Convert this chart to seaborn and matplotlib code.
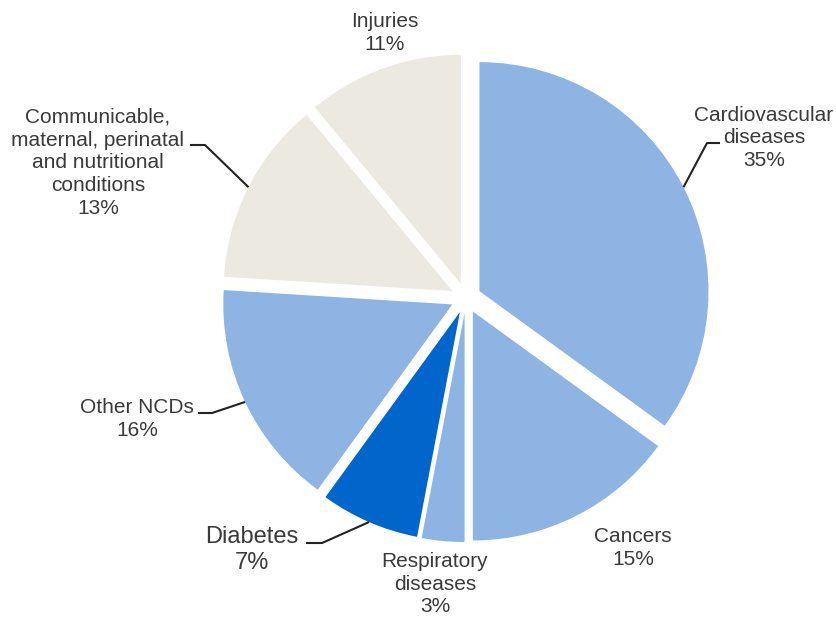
import numpy as np
import matplotlib
matplotlib.use("Agg")
import matplotlib.pyplot as plt
import seaborn as sns

sns.set_theme(style="white")
plt.rcParams['font.family'] = ['Liberation Sans', 'DejaVu Sans']

# ---- data ----
categories = ["Cardiovascular\ndiseases", "Cancers", "Respiratory\ndiseases", "Diabetes",
              "Other NCDs", "Communicable,\nmaternal, perinatal\nand nutritional\nconditions", "Injuries"]
shares = [35, 15, 3, 7, 16, 13, 11]
pct_labels = ["35%", "15%", "3%", "7%", "16%", "13%", "11%"]

# ---- styles ----
LIGHT = "#8EB4E3"
DARK = "#0066CC"
BEIGE = "#ECEAE0"
colors = [LIGHT, LIGHT, LIGHT, DARK, LIGHT, BEIGE, BEIGE]
TXT = "#3a3a3a"

W, H = 837, 617
fig = plt.figure(figsize=(W / 100, H / 100), dpi=100)
ax = fig.add_axes([0, 0, 1, 1])

center = (466, H - 298)
radius = 229
explode_frac = 0.066  # fraction of radius (matplotlib explode is in data units)
wedges, _ = ax.pie(shares, colors=colors, startangle=90, counterclock=False,
                   explode=[explode_frac * radius] * len(shares), center=center, radius=radius,
                   wedgeprops=dict(linewidth=0), frame=False)
ax.set_xlim(0, W)
ax.set_ylim(0, H)
ax.set_aspect("equal")
ax.axis("off")

# label layout (screen pixel coords, y measured from top)
layout = {
    0: dict(text=(764, 138), elbow=[(707, 143), (720, 143)], size=15),
    1: dict(text=(633, 548), elbow=None, size=15),
    2: dict(text=(435, 584), elbow=None, size=15),
    3: dict(text=(252, 550), elbow=[(322, 543), (306, 543)], size=17),
    4: dict(text=(137, 419), elbow=[(212, 413), (198, 413)], size=15),
    5: dict(text=(98, 163), elbow=[(205, 145), (190, 145)], size=15),
    6: dict(text=(385, 33), elbow=None, size=15),
}

for i, w in enumerate(wedges):
    lay = layout[i]
    label = categories[i] + "\n" + pct_labels[i]
    tx, ty = lay["text"]
    ax.text(tx, H - ty, label, ha="center", va="center", fontsize=lay["size"],
            color=TXT, linespacing=1.25)
    if lay["elbow"] is not None:
        mid = np.deg2rad((w.theta1 + w.theta2) / 2)
        cx, cy = w.center
        px, py = cx + w.r * np.cos(mid), cy + w.r * np.sin(mid)
        xs = [px] + [p[0] for p in lay["elbow"]]
        ys = [py] + [H - p[1] for p in lay["elbow"]]
        ax.plot(xs, ys, color="#222222", lw=1.5, solid_capstyle="butt")

fig.savefig("out.png", dpi=100, facecolor="white")
